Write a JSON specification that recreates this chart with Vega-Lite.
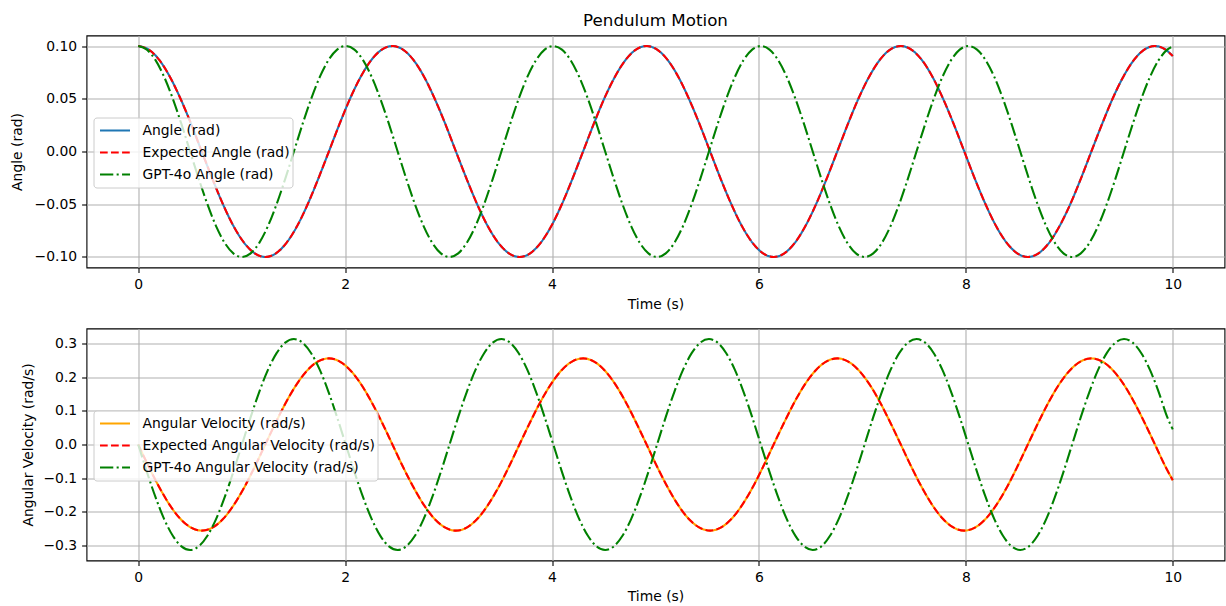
{
  "$schema": "https://vega.github.io/schema/vega-lite/v6.json",
  "padding": {"left": 8.5, "top": 11.5, "right": 0, "bottom": 0},
  "bounds": "flush",
  "spacing": 61,
  "config": {
    "font": "DejaVu Sans",
    "view": {"stroke": "#000", "strokeWidth": 1.1},
    "axis": {"domain": false, "grid": true, "gridColor": "#b0b0b0", "gridWidth": 1.1, "tickColor": "#000", "tickSize": 4.9, "tickWidth": 1.1, "labelPadding": 4.9, "labelFont": "DejaVu Sans", "labelFontSize": 13.9, "labelColor": "#000", "titleFont": "DejaVu Sans", "titleFontSize": 13.9, "titleFontWeight": "normal", "titleColor": "#000", "labelFlush": false, "labelOverlap": false},
    "legend": {"orient": "none", "legendX": 7, "legendY": 82, "symbolType": "stroke", "symbolSize": 900, "symbolStrokeWidth": 2.08, "clipHeight": 22, "labelFontSize": 13.9, "labelFont": "DejaVu Sans", "labelColor": "#000", "labelLimit": 400, "labelOffset": 11, "padding": 2, "symbolOffset": 3, "rowPadding": 0, "fillColor": "rgba(255,255,255,0.8)", "strokeColor": "#cccccc", "cornerRadius": 3}
  },
  "datasets": {
    "main": [
      {"t":0,"a":0.1,"v":0},{"t":0.102,"a":0.0966,"v":-0.0662},{"t":0.205,"a":0.0866,"v":-0.1279},{"t":0.307,"a":0.0707,"v":-0.1808},{"t":0.409,"a":0.05,"v":-0.2215},{"t":0.512,"a":0.0259,"v":-0.247},{"t":0.614,"a":0,"v":-0.2557},{"t":0.717,"a":-0.0259,"v":-0.247},{"t":0.819,"a":-0.05,"v":-0.2215},{"t":0.921,"a":-0.0707,"v":-0.1808},{"t":1.024,"a":-0.0866,"v":-0.1279},{"t":1.126,"a":-0.0966,"v":-0.0662},{"t":1.228,"a":-0.1,"v":0},{"t":1.331,"a":-0.0966,"v":0.0662},{"t":1.433,"a":-0.0866,"v":0.1279},{"t":1.536,"a":-0.0707,"v":0.1808},{"t":1.638,"a":-0.05,"v":0.2215},{"t":1.74,"a":-0.0259,"v":0.247},{"t":1.843,"a":0,"v":0.2557},{"t":1.945,"a":0.0259,"v":0.247},{"t":2.047,"a":0.05,"v":0.2215},{"t":2.15,"a":0.0707,"v":0.1808},{"t":2.252,"a":0.0866,"v":0.1279},{"t":2.355,"a":0.0966,"v":0.0662},
      {"t":2.457,"a":0.1,"v":0},{"t":2.559,"a":0.0966,"v":-0.0662},{"t":2.662,"a":0.0866,"v":-0.1279},{"t":2.764,"a":0.0707,"v":-0.1808},{"t":2.866,"a":0.05,"v":-0.2215},{"t":2.969,"a":0.0259,"v":-0.247},{"t":3.071,"a":0,"v":-0.2557},{"t":3.174,"a":-0.0259,"v":-0.247},{"t":3.276,"a":-0.05,"v":-0.2215},{"t":3.378,"a":-0.0707,"v":-0.1808},{"t":3.481,"a":-0.0866,"v":-0.1279},{"t":3.583,"a":-0.0966,"v":-0.0662},{"t":3.685,"a":-0.1,"v":0},{"t":3.788,"a":-0.0966,"v":0.0662},{"t":3.89,"a":-0.0866,"v":0.1279},{"t":3.993,"a":-0.0707,"v":0.1808},{"t":4.095,"a":-0.05,"v":0.2215},{"t":4.197,"a":-0.0259,"v":0.247},{"t":4.3,"a":0,"v":0.2557},{"t":4.402,"a":0.0259,"v":0.247},{"t":4.504,"a":0.05,"v":0.2215},{"t":4.607,"a":0.0707,"v":0.1808},{"t":4.709,"a":0.0866,"v":0.1279},{"t":4.811,"a":0.0966,"v":0.0662},
      {"t":4.914,"a":0.1,"v":0},{"t":5.016,"a":0.0966,"v":-0.0662},{"t":5.119,"a":0.0866,"v":-0.1279},{"t":5.221,"a":0.0707,"v":-0.1808},{"t":5.323,"a":0.05,"v":-0.2215},{"t":5.426,"a":0.0259,"v":-0.247},{"t":5.528,"a":0,"v":-0.2557},{"t":5.63,"a":-0.0259,"v":-0.247},{"t":5.733,"a":-0.05,"v":-0.2215},{"t":5.835,"a":-0.0707,"v":-0.1808},{"t":5.938,"a":-0.0866,"v":-0.1279},{"t":6.04,"a":-0.0966,"v":-0.0662},{"t":6.142,"a":-0.1,"v":0},{"t":6.245,"a":-0.0966,"v":0.0662},{"t":6.347,"a":-0.0866,"v":0.1279},{"t":6.449,"a":-0.0707,"v":0.1808},{"t":6.552,"a":-0.05,"v":0.2215},{"t":6.654,"a":-0.0259,"v":0.247},{"t":6.757,"a":0,"v":0.2557},{"t":6.859,"a":0.0259,"v":0.247},{"t":6.961,"a":0.05,"v":0.2215},{"t":7.064,"a":0.0707,"v":0.1808},{"t":7.166,"a":0.0866,"v":0.1279},{"t":7.268,"a":0.0966,"v":0.0662},
      {"t":7.371,"a":0.1,"v":0},{"t":7.473,"a":0.0966,"v":-0.0662},{"t":7.576,"a":0.0866,"v":-0.1279},{"t":7.678,"a":0.0707,"v":-0.1808},{"t":7.78,"a":0.05,"v":-0.2215},{"t":7.883,"a":0.0259,"v":-0.247},{"t":7.985,"a":0,"v":-0.2557},{"t":8.087,"a":-0.0259,"v":-0.247},{"t":8.19,"a":-0.05,"v":-0.2215},{"t":8.292,"a":-0.0707,"v":-0.1808},{"t":8.395,"a":-0.0866,"v":-0.1279},{"t":8.497,"a":-0.0966,"v":-0.0662},{"t":8.599,"a":-0.1,"v":0},{"t":8.702,"a":-0.0966,"v":0.0662},{"t":8.804,"a":-0.0866,"v":0.1279},{"t":8.906,"a":-0.0707,"v":0.1808},{"t":9.009,"a":-0.05,"v":0.2215},{"t":9.111,"a":-0.0259,"v":0.247},{"t":9.213,"a":0,"v":0.2557},{"t":9.316,"a":0.0259,"v":0.247},{"t":9.418,"a":0.05,"v":0.2215},{"t":9.521,"a":0.0707,"v":0.1808},{"t":9.623,"a":0.0866,"v":0.1279},{"t":9.725,"a":0.0966,"v":0.0662},
      {"t":9.828,"a":0.1,"v":0},{"t":9.93,"a":0.0966,"v":-0.0662},{"t":10,"a":0.0905,"v":-0.106}
    ],
    "gpt": [
      {"t":0,"a":0.1,"v":0},{"t":0.0836,"a":0.0966,"v":-0.0811},{"t":0.1672,"a":0.0866,"v":-0.1566},{"t":0.2508,"a":0.0707,"v":-0.2215},{"t":0.3343,"a":0.05,"v":-0.2712},{"t":0.4179,"a":0.0259,"v":-0.3025},{"t":0.5015,"a":0,"v":-0.3132},{"t":0.5851,"a":-0.0259,"v":-0.3025},{"t":0.6687,"a":-0.05,"v":-0.2712},{"t":0.7523,"a":-0.0707,"v":-0.2215},{"t":0.8359,"a":-0.0866,"v":-0.1566},{"t":0.9195,"a":-0.0966,"v":-0.0811},{"t":1.003,"a":-0.1,"v":0},{"t":1.0866,"a":-0.0966,"v":0.0811},{"t":1.1702,"a":-0.0866,"v":0.1566},{"t":1.2538,"a":-0.0707,"v":0.2215},{"t":1.3374,"a":-0.05,"v":0.2712},{"t":1.421,"a":-0.0259,"v":0.3025},{"t":1.5046,"a":0,"v":0.3132},{"t":1.5881,"a":0.0259,"v":0.3025},{"t":1.6717,"a":0.05,"v":0.2712},{"t":1.7553,"a":0.0707,"v":0.2215},{"t":1.8389,"a":0.0866,"v":0.1566},{"t":1.9225,"a":0.0966,"v":0.0811},
      {"t":2.0061,"a":0.1,"v":0},{"t":2.0897,"a":0.0966,"v":-0.0811},{"t":2.1732,"a":0.0866,"v":-0.1566},{"t":2.2568,"a":0.0707,"v":-0.2215},{"t":2.3404,"a":0.05,"v":-0.2712},{"t":2.424,"a":0.0259,"v":-0.3025},{"t":2.5076,"a":0,"v":-0.3132},{"t":2.5912,"a":-0.0259,"v":-0.3025},{"t":2.6748,"a":-0.05,"v":-0.2712},{"t":2.7584,"a":-0.0707,"v":-0.2215},{"t":2.8419,"a":-0.0866,"v":-0.1566},{"t":2.9255,"a":-0.0966,"v":-0.0811},{"t":3.0091,"a":-0.1,"v":0},{"t":3.0927,"a":-0.0966,"v":0.0811},{"t":3.1763,"a":-0.0866,"v":0.1566},{"t":3.2599,"a":-0.0707,"v":0.2215},{"t":3.3435,"a":-0.05,"v":0.2712},{"t":3.427,"a":-0.0259,"v":0.3025},{"t":3.5106,"a":0,"v":0.3132},{"t":3.5942,"a":0.0259,"v":0.3025},{"t":3.6778,"a":0.05,"v":0.2712},{"t":3.7614,"a":0.0707,"v":0.2215},{"t":3.845,"a":0.0866,"v":0.1566},{"t":3.9286,"a":0.0966,"v":0.0811},
      {"t":4.0121,"a":0.1,"v":0},{"t":4.0957,"a":0.0966,"v":-0.0811},{"t":4.1793,"a":0.0866,"v":-0.1566},{"t":4.2629,"a":0.0707,"v":-0.2215},{"t":4.3465,"a":0.05,"v":-0.2712},{"t":4.4301,"a":0.0259,"v":-0.3025},{"t":4.5137,"a":0,"v":-0.3132},{"t":4.5973,"a":-0.0259,"v":-0.3025},{"t":4.6808,"a":-0.05,"v":-0.2712},{"t":4.7644,"a":-0.0707,"v":-0.2215},{"t":4.848,"a":-0.0866,"v":-0.1566},{"t":4.9316,"a":-0.0966,"v":-0.0811},{"t":5.0152,"a":-0.1,"v":0},{"t":5.0988,"a":-0.0966,"v":0.0811},{"t":5.1824,"a":-0.0866,"v":0.1566},{"t":5.2659,"a":-0.0707,"v":0.2215},{"t":5.3495,"a":-0.05,"v":0.2712},{"t":5.4331,"a":-0.0259,"v":0.3025},{"t":5.5167,"a":0,"v":0.3132},{"t":5.6003,"a":0.0259,"v":0.3025},{"t":5.6839,"a":0.05,"v":0.2712},{"t":5.7675,"a":0.0707,"v":0.2215},{"t":5.851,"a":0.0866,"v":0.1566},{"t":5.9346,"a":0.0966,"v":0.0811},
      {"t":6.0182,"a":0.1,"v":0},{"t":6.1018,"a":0.0966,"v":-0.0811},{"t":6.1854,"a":0.0866,"v":-0.1566},{"t":6.269,"a":0.0707,"v":-0.2215},{"t":6.3526,"a":0.05,"v":-0.2712},{"t":6.4362,"a":0.0259,"v":-0.3025},{"t":6.5197,"a":0,"v":-0.3132},{"t":6.6033,"a":-0.0259,"v":-0.3025},{"t":6.6869,"a":-0.05,"v":-0.2712},{"t":6.7705,"a":-0.0707,"v":-0.2215},{"t":6.8541,"a":-0.0866,"v":-0.1566},{"t":6.9377,"a":-0.0966,"v":-0.0811},{"t":7.0213,"a":-0.1,"v":0},{"t":7.1048,"a":-0.0966,"v":0.0811},{"t":7.1884,"a":-0.0866,"v":0.1566},{"t":7.272,"a":-0.0707,"v":0.2215},{"t":7.3556,"a":-0.05,"v":0.2712},{"t":7.4392,"a":-0.0259,"v":0.3025},{"t":7.5228,"a":0,"v":0.3132},{"t":7.6064,"a":0.0259,"v":0.3025},{"t":7.6899,"a":0.05,"v":0.2712},{"t":7.7735,"a":0.0707,"v":0.2215},{"t":7.8571,"a":0.0866,"v":0.1566},{"t":7.9407,"a":0.0966,"v":0.0811},
      {"t":8.0243,"a":0.1,"v":0},{"t":8.1079,"a":0.0966,"v":-0.0811},{"t":8.1915,"a":0.0866,"v":-0.1566},{"t":8.2751,"a":0.0707,"v":-0.2215},{"t":8.3586,"a":0.05,"v":-0.2712},{"t":8.4422,"a":0.0259,"v":-0.3025},{"t":8.5258,"a":0,"v":-0.3132},{"t":8.6094,"a":-0.0259,"v":-0.3025},{"t":8.693,"a":-0.05,"v":-0.2712},{"t":8.7766,"a":-0.0707,"v":-0.2215},{"t":8.8602,"a":-0.0866,"v":-0.1566},{"t":8.9437,"a":-0.0966,"v":-0.0811},{"t":9.0273,"a":-0.1,"v":0},{"t":9.1109,"a":-0.0966,"v":0.0811},{"t":9.1945,"a":-0.0866,"v":0.1566},{"t":9.2781,"a":-0.0707,"v":0.2215},{"t":9.3617,"a":-0.05,"v":0.2712},{"t":9.4453,"a":-0.0259,"v":0.3025},{"t":9.5288,"a":0,"v":0.3132},{"t":9.6124,"a":0.0259,"v":0.3025},{"t":9.696,"a":0.05,"v":0.2712},{"t":9.7796,"a":0.0707,"v":0.2215},{"t":9.8632,"a":0.0866,"v":0.1566},{"t":9.9468,"a":0.0966,"v":0.0811},
      {"t":10,"a":0.0995,"v":0.045}
    ]
  },
  "vconcat": [
    {
      "width": 1138,
      "height": 232,
      "title": {"text": "Pendulum Motion", "frame": "group", "anchor": "middle", "fontSize": 16.7, "fontWeight": "normal", "font": "DejaVu Sans", "color": "#000", "offset": -7.2, "baseline": "alphabetic"},
      "encoding": {
        "x": {"field": "t", "type": "quantitative", "scale": {"domain": [-0.5, 10.5], "nice": false, "zero": false}, "axis": {"title": "Time (s)", "values": [0, 2, 4, 6, 8, 10], "titleY": 37, "titleBaseline": "middle"}},
        "y": {"field": "a", "type": "quantitative", "scale": {"domain": [-0.11, 0.11], "nice": false, "zero": false}, "axis": {"title": "Angle (rad)", "values": [-0.1, -0.05, 0, 0.05, 0.1], "format": ".2f", "titleX": -69.5, "titleY": 116, "titleAngle": 270, "titleBaseline": "middle", "titleAlign": "center"}}
      },
      "layer": [
        {
          "data": {"name": "main"},
          "mark": {"type": "line", "strokeWidth": 2.08, "interpolate": "monotone"},
          "encoding": {
            "color": {"datum": "Angle (rad)", "scale": {"domain": ["Angle (rad)", "Expected Angle (rad)", "GPT-4o Angle (rad)"], "range": ["#1f77b4", "#ff0000", "#008000"]}, "legend": {"title": null}},
            "strokeDash": {"datum": "Angle (rad)", "scale": {"domain": ["Angle (rad)", "Expected Angle (rad)", "GPT-4o Angle (rad)"], "range": [[1, 0], [7.7, 3.33], [13.3, 3.33, 2.08, 3.33]]}, "legend": {"title": null}}
          }
        },
        {
          "data": {"name": "main"},
          "mark": {"type": "line", "strokeWidth": 2.08, "interpolate": "monotone"},
          "encoding": {
            "color": {"datum": "Expected Angle (rad)", "scale": {"domain": ["Angle (rad)", "Expected Angle (rad)", "GPT-4o Angle (rad)"], "range": ["#1f77b4", "#ff0000", "#008000"]}, "legend": {"title": null}},
            "strokeDash": {"datum": "Expected Angle (rad)", "scale": {"domain": ["Angle (rad)", "Expected Angle (rad)", "GPT-4o Angle (rad)"], "range": [[1, 0], [7.7, 3.33], [13.3, 3.33, 2.08, 3.33]]}, "legend": {"title": null}}
          }
        },
        {
          "data": {"name": "gpt"},
          "mark": {"type": "line", "strokeWidth": 2.08, "interpolate": "monotone"},
          "encoding": {
            "color": {"datum": "GPT-4o Angle (rad)", "scale": {"domain": ["Angle (rad)", "Expected Angle (rad)", "GPT-4o Angle (rad)"], "range": ["#1f77b4", "#ff0000", "#008000"]}, "legend": {"title": null}},
            "strokeDash": {"datum": "GPT-4o Angle (rad)", "scale": {"domain": ["Angle (rad)", "Expected Angle (rad)", "GPT-4o Angle (rad)"], "range": [[1, 0], [7.7, 3.33], [13.3, 3.33, 2.08, 3.33]]}, "legend": {"title": null}}
          }
        }
      ]
    },
    {
      "width": 1138,
      "height": 232,
      "encoding": {
        "x": {"field": "t", "type": "quantitative", "scale": {"domain": [-0.5, 10.5], "nice": false, "zero": false}, "axis": {"title": "Time (s)", "values": [0, 2, 4, 6, 8, 10], "titleY": 36, "titleBaseline": "middle"}},
        "y": {"field": "v", "type": "quantitative", "scale": {"domain": [-0.3445, 0.3445], "nice": false, "zero": false}, "axis": {"title": "Angular Velocity (rad/s)", "values": [-0.3, -0.2, -0.1, 0, 0.1, 0.2, 0.3], "format": ".1f", "titleX": -58.5, "titleY": 116, "titleAngle": 270, "titleBaseline": "middle", "titleAlign": "center"}}
      },
      "layer": [
        {
          "data": {"name": "main"},
          "mark": {"type": "line", "strokeWidth": 2.08, "interpolate": "monotone"},
          "encoding": {
            "color": {"datum": "Angular Velocity (rad/s)", "scale": {"domain": ["Angular Velocity (rad/s)", "Expected Angular Velocity (rad/s)", "GPT-4o Angular Velocity (rad/s)"], "range": ["#ffa500", "#ff0000", "#008000"]}, "legend": {"title": null}},
            "strokeDash": {"datum": "Angular Velocity (rad/s)", "scale": {"domain": ["Angular Velocity (rad/s)", "Expected Angular Velocity (rad/s)", "GPT-4o Angular Velocity (rad/s)"], "range": [[1, 0], [7.7, 3.33], [13.3, 3.33, 2.08, 3.33]]}, "legend": {"title": null}}
          }
        },
        {
          "data": {"name": "main"},
          "mark": {"type": "line", "strokeWidth": 2.08, "interpolate": "monotone"},
          "encoding": {
            "color": {"datum": "Expected Angular Velocity (rad/s)", "scale": {"domain": ["Angular Velocity (rad/s)", "Expected Angular Velocity (rad/s)", "GPT-4o Angular Velocity (rad/s)"], "range": ["#ffa500", "#ff0000", "#008000"]}, "legend": {"title": null}},
            "strokeDash": {"datum": "Expected Angular Velocity (rad/s)", "scale": {"domain": ["Angular Velocity (rad/s)", "Expected Angular Velocity (rad/s)", "GPT-4o Angular Velocity (rad/s)"], "range": [[1, 0], [7.7, 3.33], [13.3, 3.33, 2.08, 3.33]]}, "legend": {"title": null}}
          }
        },
        {
          "data": {"name": "gpt"},
          "mark": {"type": "line", "strokeWidth": 2.08, "interpolate": "monotone"},
          "encoding": {
            "color": {"datum": "GPT-4o Angular Velocity (rad/s)", "scale": {"domain": ["Angular Velocity (rad/s)", "Expected Angular Velocity (rad/s)", "GPT-4o Angular Velocity (rad/s)"], "range": ["#ffa500", "#ff0000", "#008000"]}, "legend": {"title": null}},
            "strokeDash": {"datum": "GPT-4o Angular Velocity (rad/s)", "scale": {"domain": ["Angular Velocity (rad/s)", "Expected Angular Velocity (rad/s)", "GPT-4o Angular Velocity (rad/s)"], "range": [[1, 0], [7.7, 3.33], [13.3, 3.33, 2.08, 3.33]]}, "legend": {"title": null}}
          }
        }
      ]
    }
  ],
  "resolve": {"scale": {"color": "independent", "strokeDash": "independent"}, "legend": {"color": "independent", "strokeDash": "independent"}}
}
